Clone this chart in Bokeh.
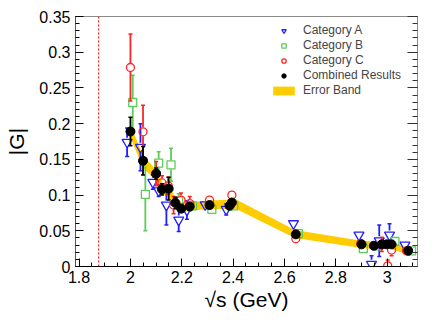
import numpy as np
from bokeh.plotting import figure
from bokeh.models import (Legend, LegendItem, LinearAxis, FixedTicker, Span, Range1d,
                          CustomJSTickFormatter)
from bokeh.embed import file_html
from bokeh.resources import INLINE

FONT = "Liberation Sans"

# ---------------- data ----------------
threshold = 1.876  # 2 * m_p

a_x = [1.987, 2.039, 2.087, 2.110, 2.140, 2.188, 2.220, 2.291, 2.373, 2.635,
       2.890, 2.939, 2.969, 3.009, 3.069]
a_y = [0.174, 0.167, 0.118, 0.106, 0.086, 0.065, 0.079, 0.0865, 0.080, 0.060,
       0.044, 0.003, 0.036, 0.044, 0.030]
a_err = [0.020, 0.033, 0.010, 0.008, 0.028, 0.016, 0.013, 0.006, 0.008, 0.005,
         0.004, 0.012, 0.022, 0.016, 0.004]

b_x = [2.009, 2.058, 2.110, 2.158, 2.188, 2.242, 2.317, 2.402, 2.654,
       2.907, 2.965, 3.030, 3.095]
b_y = [0.2296, 0.101, 0.1447, 0.1424, 0.092, 0.085, 0.080, 0.085, 0.046,
       0.025, 0.029, 0.035, 0.022]
b_err = [0.038, 0.051, 0.016, 0.023, 0.010, 0.006, 0.006, 0.005, 0.004,
         0.004, 0.005, 0.005, 0.004]

c_x = [2.000, 2.049, 2.100, 2.123, 2.147, 2.168, 2.197, 2.231, 2.308, 2.395,
       2.644, 2.897, 2.979, 3.002, 3.017, 3.075]
c_y = [0.2786, 0.1886, 0.130, 0.117, 0.113, 0.086, 0.093, 0.088, 0.093, 0.0999,
       0.039, 0.032, 0.031, 0.001, 0.023, 0.022]
c_err = [0.047, 0.037, 0.017, 0.010, 0.012, 0.012, 0.010, 0.010, 0.006, 0.006,
         0.005, 0.005, 0.010, 0.008, 0.008, 0.004]

comb_x = [2.000, 2.049, 2.100, 2.123, 2.149, 2.175, 2.198, 2.231, 2.308, 2.386,
          2.395, 2.644, 2.900, 2.948, 2.979, 2.998, 3.017, 3.082]
comb_y = [0.189, 0.148, 0.130, 0.108, 0.109, 0.089, 0.081, 0.084, 0.086, 0.085,
          0.0896, 0.045, 0.031, 0.029, 0.031, 0.031, 0.031, 0.022]
comb_err = [0.020, 0.020, 0.008, 0.008, 0.016, 0.008, 0.006, 0.006, 0.005, 0.005,
            0.005, 0.004, 0.004, 0.006, 0.005, 0.005, 0.005, 0.004]

band_x = [2.0, 2.05, 2.1, 2.125, 2.15, 2.175, 2.2, 2.23, 2.3, 2.41, 2.64,
          2.9, 2.95, 3.0, 3.08]
band_hi = [0.198, 0.155, 0.135, 0.117, 0.114, 0.096, 0.089, 0.090, 0.092, 0.094,
           0.051, 0.036, 0.035, 0.037, 0.026]
band_lo = [0.180, 0.138, 0.120, 0.101, 0.097, 0.082, 0.076, 0.078, 0.080, 0.081,
           0.040, 0.026, 0.024, 0.026, 0.017]

xtick_vals = [1.8, 2.0, 2.2, 2.4, 2.6, 2.8, 3.0]
xtick_labels = ["1.8", "2", "2.2", "2.4", "2.6", "2.8", "3"]
ytick_vals = [0.0, 0.05, 0.1, 0.15, 0.2, 0.25, 0.3, 0.35]
ytick_labels = ["0", "0.05", "0.1", "0.15", "0.2", "0.25", "0.3", "0.35"]

labels = ["Category A", "Category B", "Category C", "Combined Results", "Error Band"]
x_title = "\u221as (GeV)"
y_title = "|G|"

# ---------------- figure ----------------
p = figure(width=441, height=320, output_backend="svg", toolbar_location=None,
           x_range=Range1d(1.786, 3.118), y_range=Range1d(0, 0.35),
           min_border_left=75, min_border_right=24, min_border_top=16,
           min_border_bottom=54)
p.background_fill_color = "white"
p.border_fill_color = "white"
p.outline_line_color = "#8a8a8a"
p.xgrid.visible = False
p.ygrid.visible = False

xminor = list(np.round(np.arange(1.75, 3.15, 0.05), 3))
yminor = list(np.round(np.arange(0, 0.351, 0.01), 3))
xticker = FixedTicker(ticks=xtick_vals, minor_ticks=xminor)
yticker = FixedTicker(ticks=ytick_vals, minor_ticks=yminor)

xa = p.xaxis[0]
xa.ticker = xticker
xa.major_label_overrides = dict(zip(xtick_vals, xtick_labels))
ya = p.yaxis[0]
ya.ticker = yticker
ya.major_label_overrides = dict(zip(ytick_vals, ytick_labels))

for ax in (xa, ya):
    ax.major_tick_in = 8
    ax.major_tick_out = 0
    ax.minor_tick_in = 4
    ax.minor_tick_out = 0
    ax.major_label_text_font = FONT
    ax.major_label_text_font_size = "16px"
    ax.major_label_text_color = "black"
    ax.major_tick_line_color = "black"
    ax.minor_tick_line_color = "black"
    ax.axis_label_text_font = FONT
    ax.axis_label_text_font_size = "21px"
    ax.axis_label_text_font_style = "normal"
    ax.axis_label_text_color = "black"
xa.axis_line_color = "black"
ya.axis_line_color = "#555555"
xa.major_label_standoff = 4
ya.major_label_standoff = 5
xa.axis_label = x_title
ya.axis_label = y_title
xa.axis_label_standoff = 2
ya.axis_label_standoff = 8

ra = LinearAxis(ticker=yticker, formatter=CustomJSTickFormatter(code="return ''"),
                major_tick_in=10, major_tick_out=0, minor_tick_in=5, minor_tick_out=0,
                axis_line_color="#8a8a8a", major_tick_line_color="#333333",
                minor_tick_line_color="#333333", major_label_standoff=0)
p.add_layout(ra, "right")

# threshold line
p.add_layout(Span(location=threshold, dimension="height", line_color="#ff2020",
                  line_dash="2 2", line_width=1.3))

# error band
band = p.varea(x=band_x, y1=band_lo, y2=band_hi, fill_color="#ffcc00")

GAP = 4.5 * 0.35 / 250.0  # marker radius in data units


def errbars(xs, ys, es, color, lw=1.8):
    xs = np.array(xs); ys = np.array(ys); es = np.array(es)
    m = es > GAP
    p.segment(x0=xs[m], y0=ys[m] + GAP, x1=xs[m], y1=ys[m] + es[m],
              line_color=color, line_width=lw)
    p.segment(x0=xs[m], y0=ys[m] - GAP, x1=xs[m], y1=ys[m] - es[m],
              line_color=color, line_width=lw)
    p.scatter(x=np.concatenate([xs[m], xs[m]]),
              y=np.concatenate([ys[m] + es[m], ys[m] - es[m]]),
              marker="dash", size=4, line_color=color, line_width=1.5)


BLUE = "#2020ff"
GREEN = "#5ccc5c"
RED = "#ff2424"

errbars(a_x, a_y, a_err, BLUE)
rA = p.scatter(x=a_x, y=a_y, marker="inverted_triangle", size=10,
               fill_color=None, line_color=BLUE, line_width=1.3)
errbars(b_x, b_y, b_err, GREEN)
rB = p.scatter(x=b_x, y=b_y, marker="square", size=8,
               fill_color=None, line_color=GREEN, line_width=1.3)
errbars(c_x, c_y, c_err, RED)
rC = p.scatter(x=c_x, y=c_y, marker="circle", size=8,
               fill_color=None, line_color=RED, line_width=1.3)
errbars(comb_x, comb_y, comb_err, "black")
rD = p.scatter(x=comb_x, y=comb_y, marker="circle", size=9,
               fill_color="black", line_color="black")

legend = Legend(items=[LegendItem(label=labels[0], renderers=[rA]),
                       LegendItem(label=labels[1], renderers=[rB]),
                       LegendItem(label=labels[2], renderers=[rC]),
                       LegendItem(label=labels[3], renderers=[rD]),
                       LegendItem(label=labels[4], renderers=[band])],
                location=(195, 169), padding=0, margin=0, spacing=1,
                glyph_width=27, glyph_height=11, label_standoff=6,
                label_text_font=FONT, label_text_font_size="12px",
                border_line_alpha=0, background_fill_alpha=0)
p.add_layout(legend)

open("out.html", "w").write(file_html(p, INLINE))
